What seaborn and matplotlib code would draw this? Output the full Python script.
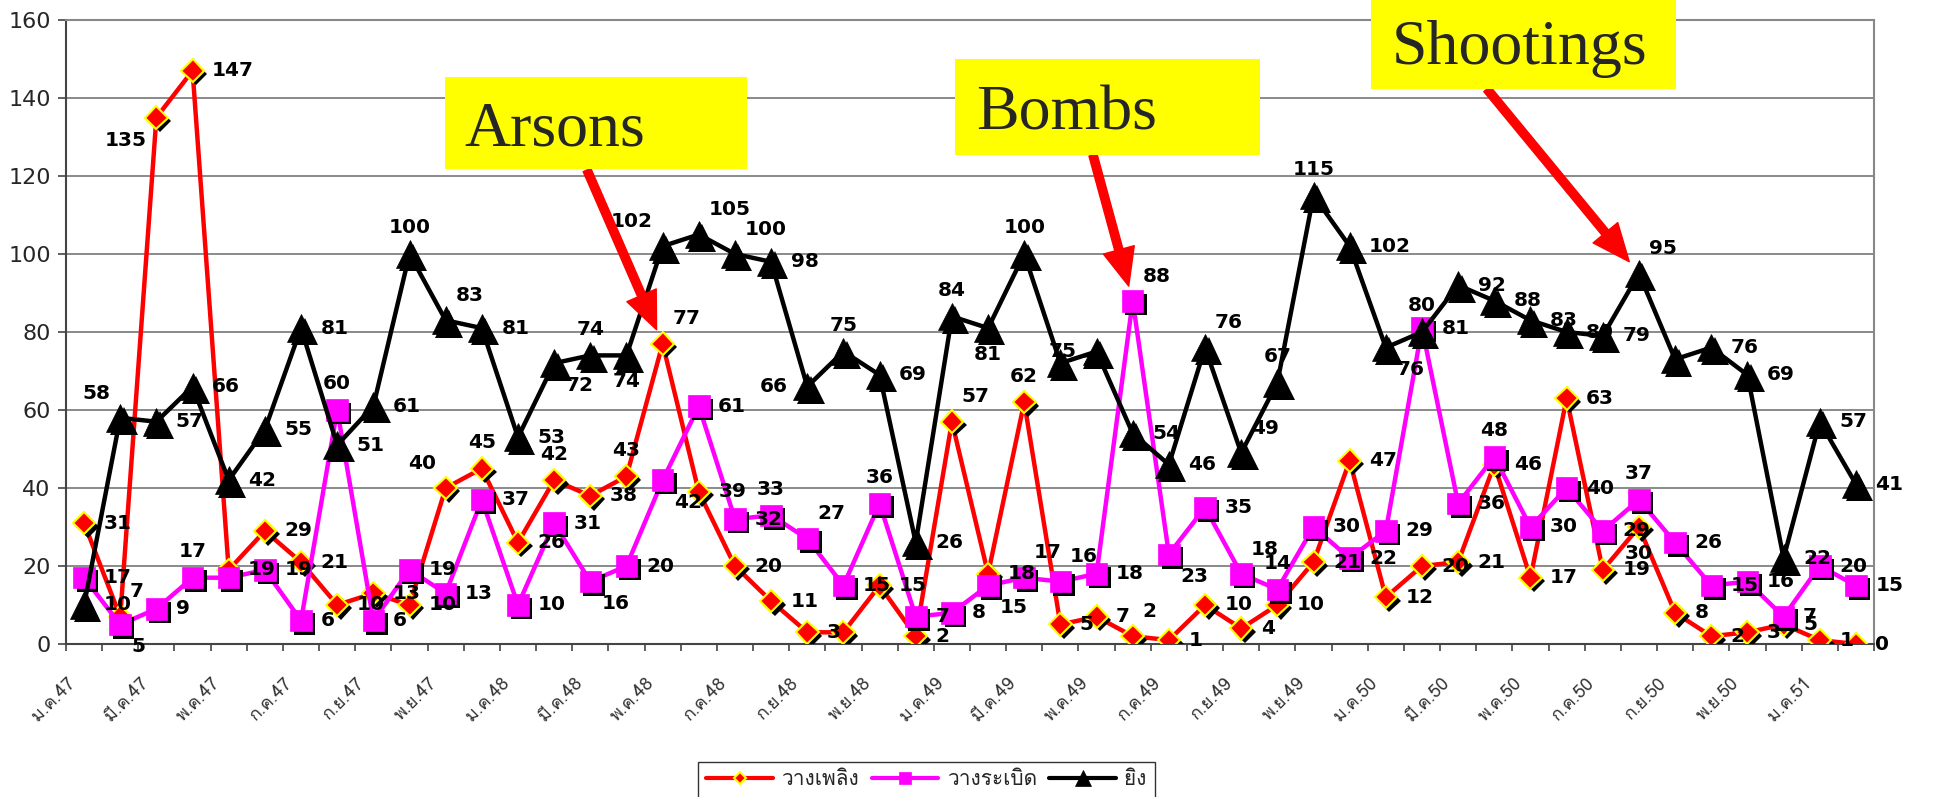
import matplotlib
matplotlib.use("Agg")
import matplotlib.pyplot as plt
import matplotlib.patheffects as pe
import matplotlib.transforms as mtransforms
from matplotlib import font_manager
from matplotlib.ft2font import FT2Font
from matplotlib.lines import Line2D
from matplotlib.patches import Rectangle
import numpy as np
import seaborn as sns

# monthly incidents, ม.ค.47 .. ก.พ.51
months = ["ม.ค.", "ก.พ.", "มี.ค.", "เม.ย.", "พ.ค.", "มิ.ย.",
          "ก.ค.", "ส.ค.", "ก.ย.", "ต.ค.", "พ.ย.", "ธ.ค."]
years = ["47", "48", "49", "50", "51"]
periods = [m + y for y in years for m in months][:50]

arsons = [31, 7, 135, 147, 19, 29, 21, 10, 13, 10, 40, 45,
          26, 42, 38, 43, 77, 39, 20, 11, 3, 3, 15, 2,
          57, 18, 62, 5, 7, 2, 1, 10, 4, 10, 21, 47,
          12, 20, 21, 46, 17, 63, 19, 30, 8, 2, 3, 5,
          1, 0]
bombs = [17, 5, 9, 17, 17, 19, 6, 60, 6, 19, 13, 37,
         10, 31, 16, 20, 42, 61, 32, 33, 27, 15, 36, 7,
         8, 15, 17, 16, 18, 88, 23, 35, 18, 14, 30, 22,
         29, 81, 36, 48, 30, 40, 29, 37, 26, 15, 16, 7,
         20, 15]
shootings = [10, 58, 57, 66, 42, 55, 81, 51, 61, 100, 83, 81,
             53, 72, 74, 74, 102, 105, 100, 98, 66, 75, 69, 26,
             84, 81, 100, 72, 75, 54, 46, 76, 49, 67, 115, 102,
             76, 80, 92, 88, 83, 80, 79, 95, 73, 76, 69, 22,
             57, 41]

names = ["วางเพลิง", "วางระเบิด", "ยิง"]

# where the data label sits if not to the right (None = label hidden)
arson_spot = {1: "ar", 2: "bl", 10: "al", 11: "a", 13: "a", 15: "a", 16: "ar", 21: None,
              24: "ar", 26: "a", 29: "ar", 43: "b"}
bomb_spot = {1: "br", 3: "a", 4: None, 7: "a", 14: "br", 16: "br", 19: "a", 20: "ar",
             22: "a", 25: "br", 26: "ar", 27: "ar", 29: "ar", 30: "br", 32: "ar",
             33: "a", 39: "a", 43: "a"}
shoot_spot = {1: "al", 9: "a", 10: "ar", 13: "br", 14: "a", 15: "b", 16: "al",
              17: "ar", 18: "ar", 20: "l", 21: "a", 24: "a", 25: "b", 26: "a",
              28: "l", 31: "ar", 32: "ar", 33: "a", 34: "a", 36: "br", 37: "a",
              43: "ar", 44: None}


def thai_font():
    for f in font_manager.fontManager.ttflist:
        try:
            if FT2Font(f.fname).get_char_index(0x0E27):
                return f.name
        except Exception:
            pass
    return "DejaVu Sans"


sns.set_style("white")
thai = thai_font()
plt.rcParams["font.family"] = ["DejaVu Sans", thai]
thai_fam = [thai, "DejaVu Sans"]

fig = plt.figure(figsize=(19.37, 7.97), dpi=100)
ax = fig.add_axes([66 / 1937, 153 / 797, 1808 / 1937, 624 / 797])

x = np.arange(len(periods))
shadow = [pe.SimplePatchShadow(offset=(2.5, -2.5), shadow_rgbFace="black", alpha=1), pe.Normal()]

styles = [
    (arsons, "#ff0000", dict(marker="D", ms=11.5, mfc="#ff0000", mec="#ffff00", mew=1.5), arson_spot),
    (bombs, "#ff00ff", dict(marker="s", ms=15.5, mfc="#ff00ff", mec="#ff00ff", mew=0.5), bomb_spot),
    (shootings, "black", dict(marker="^", ms=20, mfc="black", mec="black", mew=0.5), shoot_spot),
]

spots = {
    "r": ((14, 0), "left", "center"),
    "a": ((0, 12), "center", "bottom"),
    "ar": ((7, 11), "left", "bottom"),
    "al": ((-7, 11), "right", "bottom"),
    "b": ((0, -12), "center", "top"),
    "br": ((8, -9), "left", "top"),
    "bl": ((-7, -10), "right", "top"),
    "l": ((-14, 0), "right", "center"),
}

handles = []
for k, (vals, col, mk, spot) in enumerate(styles):
    z = 3 + k
    sns.lineplot(x=x, y=vals, color=col, lw=3.2, ax=ax, legend=False, zorder=z)
    ax.plot(x, vals, ls="none", zorder=z + 0.5, path_effects=shadow, **mk)
    for i, v in enumerate(vals):
        where = spot.get(i, "r")
        if where is None:
            continue
        off, ha, va = spots[where]
        ax.annotate(str(v), (i, v), xytext=off, textcoords="offset points",
                    ha=ha, va=va, fontsize=14.5, fontweight="bold", color="black", zorder=8)
    handles.append(Line2D([], [], color=col, lw=3, **dict(mk, ms=mk["ms"] * 0.55)))

ax.set_xlim(-0.5, len(periods) - 0.5)
ax.set_ylim(0, 160)
ax.set_yticks(range(0, 161, 20))
ax.set_xlabel("")
ax.set_ylabel("")
ax.yaxis.grid(True, color="#777777", lw=1.2)
ax.set_axisbelow(True)
for s in ["top", "right"]:
    ax.spines[s].set_color("#888888")
    ax.spines[s].set_linewidth(1.5)
for s in ["left", "bottom"]:
    ax.spines[s].set_color("#444444")
    ax.spines[s].set_linewidth(1.5)

ax.tick_params(axis="y", length=6, width=1.2, color="#444444", labelsize=16, pad=5, left=True)
ax.set_xticks(x[::2])
ax.set_xticklabels(periods[::2], rotation=45, ha="right", va="center",
                   rotation_mode="anchor", fontsize=13, color="#333333", family=thai_fam)
ax.set_xticks(np.arange(-0.5, len(periods)), minor=True)
ax.tick_params(axis="x", which="major", length=0, pad=26)
ax.tick_params(axis="x", which="minor", length=5, width=1.2, color="#444444", bottom=True)
shift = mtransforms.ScaledTranslation(-8 / 72, 0, fig.dpi_scale_trans)
for lab in ax.get_xticklabels():
    lab.set_transform(lab.get_transform() + shift)

leg = fig.legend(handles, names, loc="upper left", bbox_to_anchor=(698 / 1937, 1 - 762 / 797),
                 ncol=3, frameon=True, fancybox=False, edgecolor="black",
                 prop=dict(family=thai_fam, size=15), handlelength=3.2, handletextpad=0.4,
                 columnspacing=0.6, borderaxespad=0, borderpad=0.4)
leg.get_frame().set_linewidth(1)

# yellow call-out boxes with arrows
callouts = [
    ("Arsons", (445, 77, 302, 92), (464, 146), (587, 170), (16, 77)),
    ("Bombs", (955, 59, 305, 96), (976, 130), (1093, 155), (29, 88)),
    ("Shootings", (1371, -5, 305, 94), (1392, 64), (1487, 89), (43, 95)),
]
H = 797.0
W = 1937.0
for text, (bx, by, bw, bh), (tx, ty), tail, tip in callouts:
    fig.patches.append(Rectangle((bx / W, 1 - (by + bh) / H), bw / W, bh / H,
                                 transform=fig.transFigure, facecolor="#ffff00",
                                 edgecolor="none", zorder=10))
    fig.text(tx / W, 1 - ty / H, text, family="Liberation Serif", fontsize=46,
             ha="left", va="baseline", zorder=11)
    ax.annotate("", xy=tip, xytext=(tail[0] / W, 1 - tail[1] / H), textcoords="figure fraction",
                arrowprops=dict(arrowstyle="simple,tail_width=0.3,head_width=1.15,head_length=1.35",
                                mutation_scale=20, color="#ff0000", shrinkA=0, shrinkB=11),
                zorder=12, annotation_clip=False)

fig.savefig("out.png", dpi=100)
